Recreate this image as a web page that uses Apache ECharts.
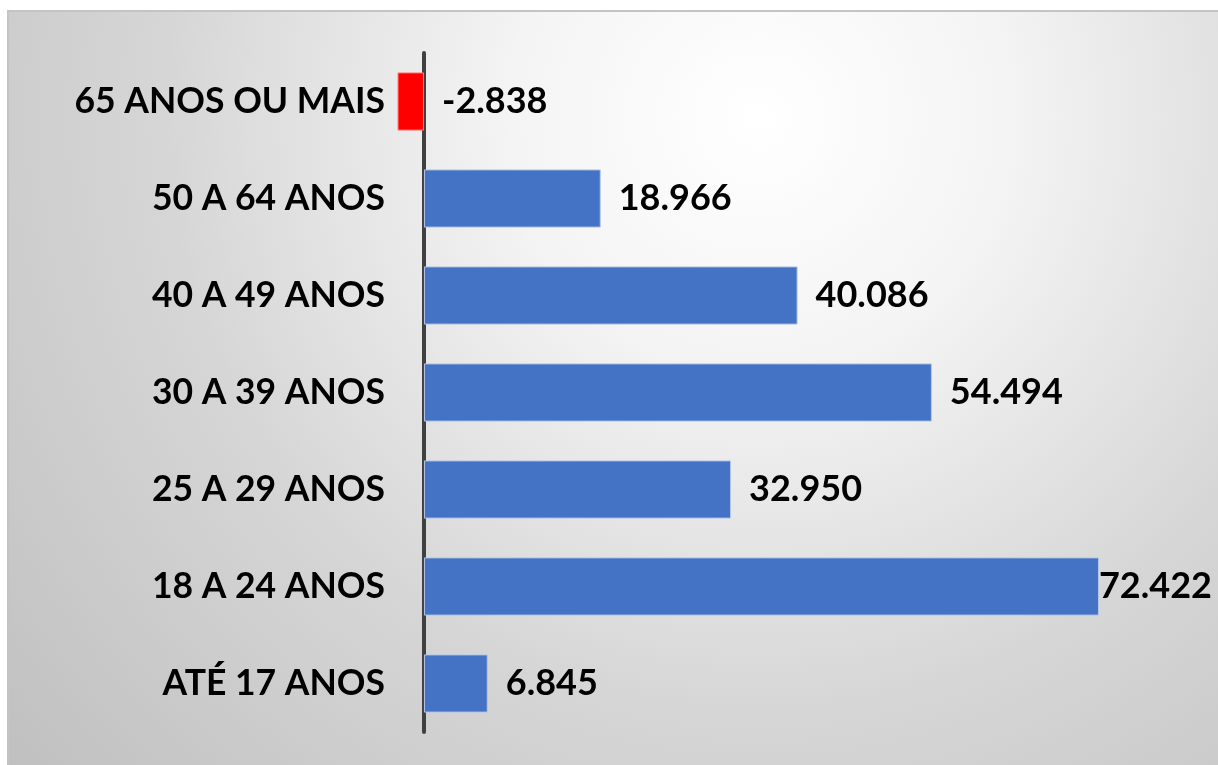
<!DOCTYPE html>
<html>
<head>
<meta charset="utf-8">
<script src="https://cdn.jsdelivr.net/npm/echarts@6/dist/echarts.min.js"></script>
<style>
  html, body { margin: 0; padding: 0; background: #ffffff; }
  #frame {
    position: absolute; left: 7px; top: 10px; width: 1211px; height: 755px;
    box-sizing: border-box; border-top: 2px solid #c4c4c4; border-left: 2px solid #c4c4c4;
    background: radial-gradient(circle farthest-corner at 62% 14%, #ffffff 0%, #f4f4f4 25%, #d6d6d6 60%, #c0c0c0 100%);
  }
  #chart { position: absolute; left: 0; top: 0; width: 1218px; height: 765px; }
</style>
</head>
<body>
<div id="frame"></div>
<div id="chart"></div>
<script>
// faixas etárias, de baixo para cima
const categories = ['ATÉ 17 ANOS', '18 A 24 ANOS', '25 A 29 ANOS', '30 A 39 ANOS', '40 A 49 ANOS', '50 A 64 ANOS', '65 ANOS OU MAIS'];
const values = [6845, 72422, 32950, 54494, 40086, 18966, -2838];

const fontFamily = 'Lato, "Open Sans", sans-serif';
const maxValue = Math.max(...values);

function fmt(v) {
  const s = String(Math.abs(v)).replace(/\B(?=(\d{3})+(?!\d))/g, '.');
  return (v < 0 ? '-' : '') + s;
}

const seriesData = values.map(v => {
  const item = { value: v };
  if (v < 0) item.itemStyle = { color: '#ff0000', borderColor: '#ff8080' };
  if (v === maxValue) item.label = { distance: 0 };
  return item;
});

const chart = echarts.init(document.getElementById('chart'));
chart.setOption({
  animation: false,
  grid: { left: 396, right: 95, top: 53, bottom: 33, containLabel: false, outerBoundsMode: 'none' },
  xAxis: {
    type: 'value',
    min: -3000,
    max: 75000,
    axisLine: { show: false },
    axisTick: { show: false },
    axisLabel: { show: false },
    splitLine: { show: false }
  },
  yAxis: {
    type: 'category',
    data: categories,
    axisLine: { show: true, onZero: true, lineStyle: { color: '#404040', width: 4 } },
    axisTick: { show: false },
    axisLabel: {
      margin: 11,
      color: '#000000',
      fontFamily: fontFamily,
      fontWeight: 'bold',
      fontSize: 35.5
    }
  },
  series: [{
    type: 'bar',
    data: seriesData,
    barCategoryGap: '40%',
    itemStyle: { color: '#4472c4', borderColor: '#b4c7e7', borderWidth: 1 },
    label: {
      show: true,
      position: 'right',
      distance: 18,
      color: '#000000',
      fontFamily: fontFamily,
      fontWeight: 'bold',
      fontSize: 36,
      formatter: p => fmt(p.value)
    }
  }]
});
</script>
</body>
</html>
